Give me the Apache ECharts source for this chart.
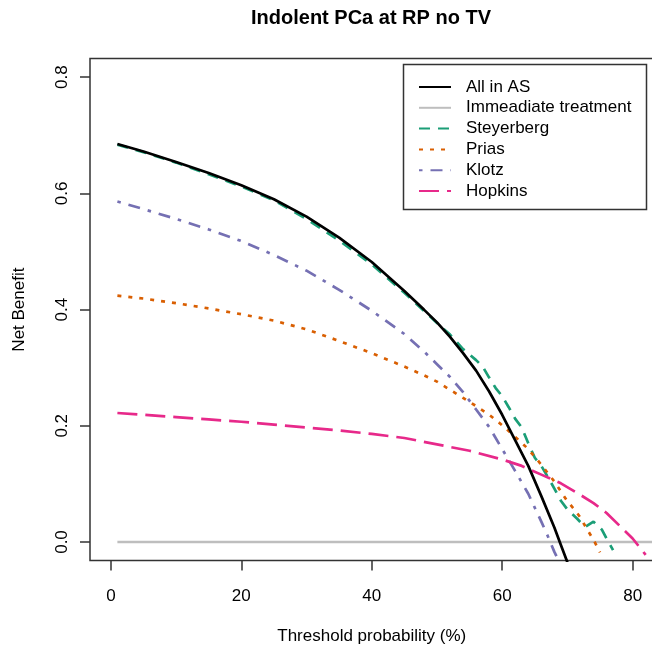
<!DOCTYPE html>
<html>
<head>
<meta charset="utf-8">
<script src="https://cdn.jsdelivr.net/npm/echarts@6.0.0/dist/echarts.min.js"></script>
<style>
    html, body { margin: 0; padding: 0; background: #fff; }
    #chart { width: 652px; height: 645px; }
</style>
</head>
<body>
<div id="chart"></div>
<script>
// 各曲线数据 (threshold %, net benefit)
const xAll = [1, 5, 10, 15, 20, 25, 30, 35, 40, 45, 48, 50, 52, 54, 56, 58, 60, 62, 64, 66, 68, 69, 70]
const yAll = [0.685, 0.672, 0.654, 0.635, 0.614, 0.590, 0.560, 0.524, 0.482, 0.432, 0.400, 0.378, 0.353, 0.325, 0.295, 0.259, 0.219, 0.175, 0.131, 0.079, 0.025, -0.005, -0.035]

const xTreat = [1, 99]
const yTreat = [0, 0]

const xSteyerberg = [1, 5, 10, 15, 20, 25, 30, 35, 40, 45, 48, 50, 52, 54, 56, 57, 58, 59, 60, 61, 62, 63, 64, 65, 66, 67, 68, 69, 70, 71.5, 72.7, 74, 75.3, 76, 77]
const ySteyerberg = [0.684, 0.671, 0.653, 0.633, 0.612, 0.588, 0.556, 0.519, 0.478, 0.429, 0.398, 0.377, 0.357, 0.332, 0.313, 0.302, 0.283, 0.265, 0.251, 0.232, 0.212, 0.197, 0.170, 0.145, 0.131, 0.112, 0.092, 0.071, 0.056, 0.040, 0.026, 0.035, 0.021, 0.006, -0.014]

const xPrias = [1, 5, 10, 15, 20, 25, 30, 35, 40, 45, 48, 50, 52, 54, 56, 58, 60, 62, 64, 66, 68, 70, 71, 72, 73, 74, 75]
const yPrias = [0.424, 0.419, 0.411, 0.402, 0.392, 0.381, 0.366, 0.346, 0.325, 0.302, 0.287, 0.276, 0.262, 0.248, 0.234, 0.219, 0.201, 0.181, 0.160, 0.133, 0.104, 0.070, 0.057, 0.042, 0.022, 0.004, -0.018]

const xKlotz = [1, 5, 10, 15, 20, 25, 30, 35, 40, 45, 48, 50, 52, 54, 56, 58, 60, 62, 64, 66, 67, 68, 69]
const yKlotz = [0.586, 0.573, 0.556, 0.538, 0.518, 0.494, 0.467, 0.434, 0.398, 0.358, 0.328, 0.306, 0.284, 0.258, 0.228, 0.198, 0.160, 0.122, 0.083, 0.035, 0.010, -0.017, -0.040]

const xHopkins = [1, 5, 10, 15, 20, 25, 30, 35, 40, 45, 50, 55, 60, 63, 66, 69, 72, 74, 76, 78, 80, 81, 82]
const yHopkins = [0.222, 0.219, 0.215, 0.211, 0.207, 0.202, 0.197, 0.192, 0.186, 0.179, 0.168, 0.157, 0.142, 0.131, 0.116, 0.101, 0.081, 0.067, 0.050, 0.028, 0.006, -0.008, -0.022]

const xTicks = [0, 20, 40, 60, 80]
const yTicks = [0, 0.2, 0.4, 0.6, 0.8]

const zip = (xs, ys) => xs.map((x, i) => [x, ys[i]])

const font = 'Liberation Sans, Arial, sans-serif'

const lineSeries = (name, xs, ys, color, type, z) => ({
    name,
    type: 'line',
    data: zip(xs, ys),
    symbol: 'none',
    clip: true,
    z,
    lineStyle: { color, width: 2.7, type, cap: 'butt' },
    itemStyle: { color },
})

const myChart = echarts.init(document.getElementById('chart'))

const option = {
    backgroundColor: '#fff',
    animation: false,
    title: {
        text: 'Indolent PCa at RP no TV',
        left: 371,
        textAlign: 'center',
        top: 8,
        padding: 0,
        textStyle: { fontFamily: font, fontSize: 20, fontWeight: 'bold', color: '#000' }
    },
    grid: {
        left: 90,
        top: 58.6,
        width: 563.5,
        height: 502,
        outerBoundsMode: 'none',
        containLabel: false,
        show: true,
        borderColor: '#333',
        borderWidth: 1.5,
        backgroundColor: 'transparent'
    },
    xAxis: {
        type: 'value',
        min: -3.2,
        max: 83.2,
        name: 'Threshold probability (%)',
        nameLocation: 'middle',
        nameGap: 67,
        nameTextStyle: { fontFamily: font, fontSize: 17, color: '#000' },
        axisLine: { show: false, onZero: false },
        splitLine: { show: false },
        axisTick: { show: true, inside: false, customValues: xTicks, length: 10, lineStyle: { color: '#333', width: 1.5 } },
        axisLabel: { customValues: xTicks, margin: 27, fontFamily: font, fontSize: 17, color: '#000' }
    },
    yAxis: {
        type: 'value',
        min: -0.032,
        max: 0.832,
        name: 'Net Benefit',
        nameLocation: 'middle',
        nameGap: 62,
        nameTextStyle: { fontFamily: font, fontSize: 17, color: '#000' },
        axisLine: { show: false, onZero: false },
        splitLine: { show: false },
        axisTick: { show: true, inside: false, customValues: yTicks, length: 10, lineStyle: { color: '#333', width: 1.5 } },
        axisLabel: {
            customValues: yTicks,
            rotate: 90,
            margin: 19,
            fontFamily: font,
            fontSize: 17,
            color: '#000',
            formatter: v => v.toFixed(1)
        }
    },
    legend: {
        orient: 'vertical',
        left: 418,
        top: 77,
        padding: 0,
        itemWidth: 32,
        itemHeight: 10,
        itemGap: 0.8,
        z: 5,
        itemStyle: { opacity: 0 },
        data: ['All in AS', 'Immeadiate treatment', 'Steyerberg', 'Prias', 'Klotz', 'Hopkins'],
        textStyle: { fontFamily: font, fontSize: 17, color: '#000', lineHeight: 20, padding: [0, 0, 0, 10] }
    },
    graphic: [{
        type: 'rect',
        z: 4,
        shape: { x: 403.5, y: 64.5, width: 243, height: 145 },
        style: { fill: '#fff', stroke: '#333', lineWidth: 1.5 }
    }],
    series: [
        lineSeries('Immeadiate treatment', xTreat, yTreat, '#bebebe', 'solid', 2),
        lineSeries('Steyerberg', xSteyerberg, ySteyerberg, '#1B9E77', [11, 8], 2),
        lineSeries('Prias', xPrias, yPrias, '#D95F02', [4, 7], 2),
        lineSeries('Klotz', xKlotz, yKlotz, '#7570B3', [3.5, 8, 12, 8], 2),
        lineSeries('Hopkins', xHopkins, yHopkins, '#E7298A', [20, 8], 2),
        lineSeries('All in AS', xAll, yAll, '#000', 'solid', 3),
    ]
}

option && myChart.setOption(option)
</script>
</body>
</html>
